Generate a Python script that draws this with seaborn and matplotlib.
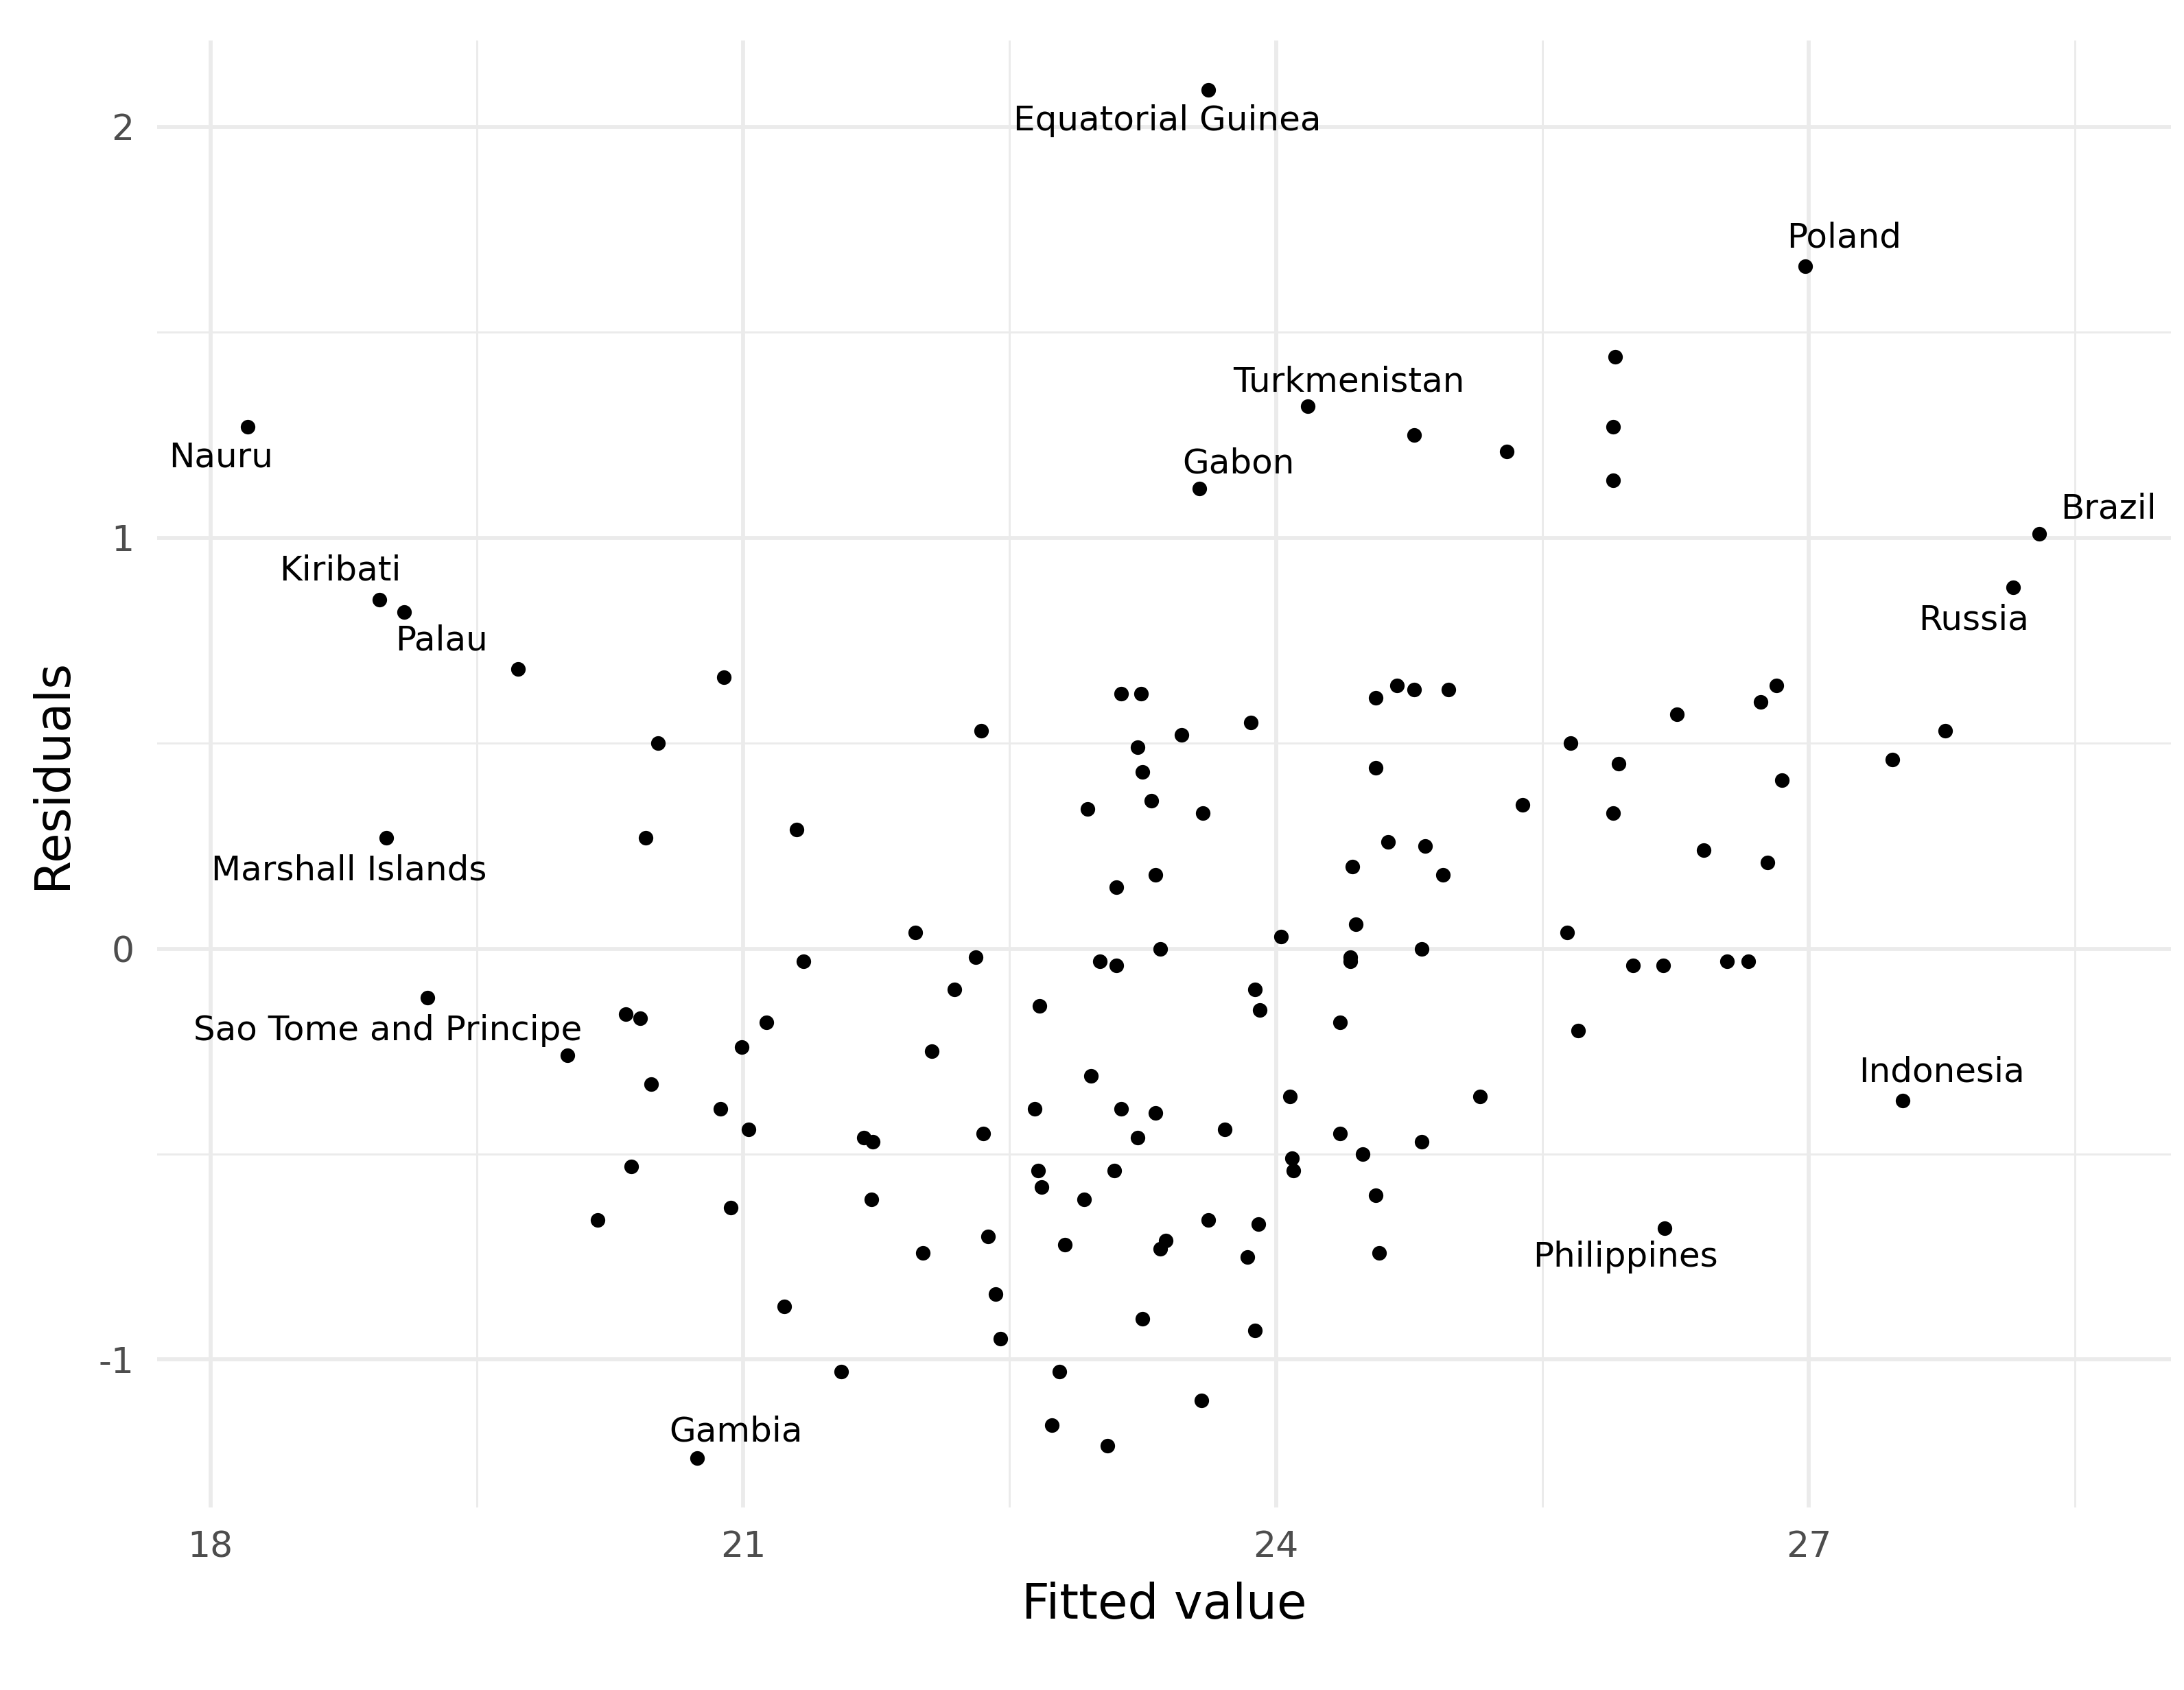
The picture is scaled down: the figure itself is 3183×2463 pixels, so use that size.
import numpy as np
import pandas as pd
import matplotlib
matplotlib.use("Agg")
import matplotlib.pyplot as plt
import seaborn as sns

plt.rcParams["axes.unicode_minus"] = False

fitted = [23.62,26.98,24.18,23.57,28.30,28.15,18.21,18.95,19.09,18.99,19.22,27.53,26.19,20.74,
 25.91,24.78,25.30,25.90,25.90,19.73,20.89,20.52,20.45,21.30,22.34,23.13,23.24,23.22,23.25,23.47,
 23.30,22.94,23.59,23.86,23.10,23.32,24.56,24.68,24.78,24.97,24.56,24.43,24.63,24.84,24.94,25.39,
 25.66,25.93,25.90,26.26,26.41,26.73,26.82,26.85,26.77,27.47,27.77,21.97,22.31,21.34,22.19,23.01,
 23.10,23.35,24.03,24.45,24.42,24.42,24.82,25.64,26.01,26.18,26.54,26.66,25.70,23.88,23.91,24.36,
 22.67,22.06,21.13,20.99,20.34,20.42,20.01,20.48,20.87,21.03,22.96,23.13,23.32,22.64,23.71,24.08,
 25.15,21.68,21.73,22.35,23.22,24.36,24.49,24.82,24.09,24.10,20.37,22.66,23.09,22.68,22.92,21.72,
 24.56,20.18,20.93,23.62,23.90,22.38,22.01,22.81,23.38,23.35,23.84,24.58,22.42,21.23,23.25,23.88,
 22.45,21.55,22.78,23.58,22.74,23.05]
residuals = [2.09,1.66,1.32,1.12,1.01,0.88,1.27,0.85,0.82,0.27,-0.12,-0.37,-0.68,-1.24,
 1.44,1.25,1.21,1.27,1.14,0.68,0.66,0.50,0.27,0.29,0.53,0.62,0.62,0.49,0.43,0.52,
 0.36,0.34,0.33,0.55,0.15,0.18,0.61,0.64,0.63,0.63,0.44,0.20,0.26,0.25,0.18,0.35,
 0.50,0.45,0.33,0.57,0.24,0.60,0.64,0.41,0.21,0.46,0.53,0.04,-0.02,-0.03,-0.10,-0.03,
 -0.04,0.00,0.03,0.06,-0.02,-0.03,0.00,0.04,-0.04,-0.04,-0.03,-0.03,-0.20,-0.10,-0.15,-0.18,
 -0.14,-0.25,-0.18,-0.24,-0.16,-0.17,-0.26,-0.33,-0.39,-0.44,-0.31,-0.39,-0.40,-0.39,-0.44,-0.36,
 -0.36,-0.46,-0.47,-0.45,-0.46,-0.45,-0.50,-0.47,-0.51,-0.54,-0.53,-0.54,-0.54,-0.58,-0.61,-0.61,
 -0.60,-0.66,-0.63,-0.66,-0.67,-0.70,-0.74,-0.72,-0.71,-0.73,-0.75,-0.74,-0.84,-0.87,-0.90,-0.93,
 -0.95,-1.03,-1.03,-1.10,-1.16,-1.21]

label_names = ["Equatorial Guinea","Poland","Turkmenistan","Gabon","Brazil","Russia","Nauru",
 "Kiribati","Palau","Marshall Islands","Sao Tome and Principe","Indonesia","Philippines","Gambia"]
label_x = [23.39,27.20,24.41,23.79,28.69,27.93,18.06,18.73,19.30,18.78,19.00,27.75,25.97,20.96]
label_y = [2.015,1.73,1.38,1.18,1.07,0.80,1.195,0.92,0.75,0.19,-0.20,-0.30,-0.75,-1.175]

df = pd.DataFrame({"fitted": fitted, "resid": residuals})

fig = plt.figure(figsize=(10.61, 8.21), dpi=300)
ax = fig.add_axes([0.072, 0.108, 0.922, 0.868])
ax.set_facecolor("white")
sns.scatterplot(data=df, x="fitted", y="resid", ax=ax, color="black", s=26, linewidth=0, zorder=3)
for n, x, y in zip(label_names, label_x, label_y):
    ax.text(x, y, n, ha="center", va="center", fontsize=12, color="black", zorder=4)

ax.set_xlim(17.70, 29.04)
ax.set_ylim(-1.36, 2.21)
ax.set_xticks([18, 21, 24, 27])
ax.set_yticks([-1, 0, 1, 2])
ax.set_xticks([19.5, 22.5, 25.5, 28.5], minor=True)
ax.set_yticks([-0.5, 0.5, 1.5], minor=True)
ax.grid(which="major", color="#EBEBEB", linewidth=1.4, zorder=0)
ax.grid(which="minor", color="#EBEBEB", linewidth=0.7, zorder=0)
ax.set_axisbelow(True)
for s in ax.spines.values():
    s.set_visible(False)
ax.tick_params(which="both", length=0, labelsize=12.5, labelcolor="#4D4D4D", pad=8)
ax.set_xlabel("Fitted value", fontsize=17, labelpad=6)
ax.set_ylabel("Residuals", fontsize=17, labelpad=8)
fig.savefig("out.png", dpi=300)
